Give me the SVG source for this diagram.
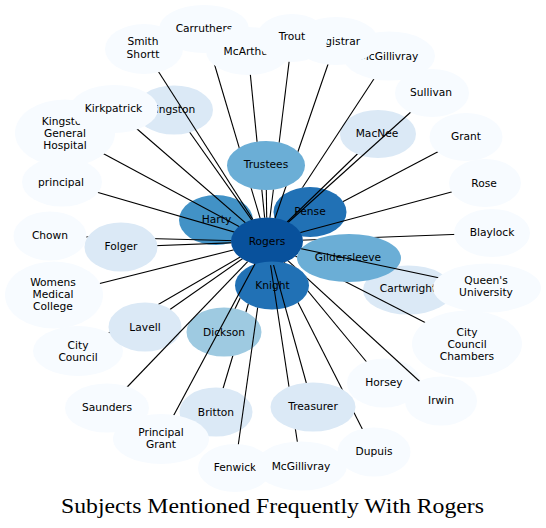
<svg xmlns="http://www.w3.org/2000/svg" xmlns:xlink="http://www.w3.org/1999/xlink" width="546" height="528" viewBox="0 0 546 528">
<style>
text{font-family:"DejaVu Sans","Liberation Sans",sans-serif;font-size:10.67px;text-anchor:middle;fill:#000}
.title{font-family:"Liberation Serif","DejaVu Serif",serif;font-size:20.5px}
.c0{fill:#f7fbff}.c1{fill:#dbe9f6}.c3{fill:#9ecae1}.c4{fill:#6baed6}.c5{fill:#4292c6}.c6{fill:#2171b5}.c7{fill:#08519c}
#edges line{stroke:#000;stroke-width:1.1}
</style>
<defs>
<ellipse id="g-carruthers" cx="204" cy="29" rx="45" ry="24"/>
<ellipse id="g-smith" cx="144" cy="49" rx="39" ry="25"/>
<ellipse id="g-mcarthur" cx="248" cy="51" rx="42" ry="24"/>
<ellipse id="g-mcgilltop" cx="389" cy="56" rx="46" ry="24.5"/>
<ellipse id="g-registrar" cx="336" cy="41" rx="42" ry="24"/>
<ellipse id="g-trout" cx="292" cy="38" rx="35.5" ry="24"/>
<ellipse id="g-sullivan" cx="432" cy="93" rx="37" ry="24"/>
<ellipse id="g-grant" cx="466" cy="137" rx="36.5" ry="24"/>
<ellipse id="g-rose" cx="485" cy="183" rx="36" ry="24"/>
<ellipse id="g-blaylock" cx="492" cy="233" rx="38" ry="24"/>
<ellipse id="g-cartwright" cx="408" cy="290" rx="45" ry="24.5"/>
<ellipse id="g-queens" cx="487" cy="288" rx="54" ry="24.5"/>
<ellipse id="g-ccc" cx="467" cy="344" rx="55" ry="33.5"/>
<ellipse id="g-horsey" cx="384" cy="383" rx="37" ry="24.5"/>
<ellipse id="g-irwin" cx="441" cy="401" rx="36" ry="24.5"/>
<ellipse id="g-dupuis" cx="374" cy="452" rx="36.5" ry="24.5"/>
<ellipse id="g-treasurer" cx="313" cy="407" rx="42.5" ry="24.5"/>
<ellipse id="g-fenwick" cx="235" cy="468" rx="37" ry="24"/>
<ellipse id="g-mcgillbot" cx="301" cy="466" rx="46" ry="24.5"/>
<ellipse id="g-britton" cx="216" cy="412" rx="36.5" ry="24.5"/>
<ellipse id="g-saunders" cx="107" cy="408" rx="42" ry="24.5"/>
<ellipse id="g-pgrant" cx="161" cy="439" rx="48" ry="25"/>
<ellipse id="g-citycouncil" cx="78" cy="351" rx="45" ry="25"/>
<ellipse id="g-lavell" cx="145" cy="327" rx="36.5" ry="24.5"/>
<ellipse id="g-womens" cx="54" cy="295" rx="49" ry="33.5"/>
<ellipse id="g-chown" cx="50" cy="236" rx="36.5" ry="24.5"/>
<ellipse id="g-folger" cx="121" cy="247" rx="36.5" ry="24.5"/>
<ellipse id="g-principal" cx="62" cy="182" rx="40" ry="24.5"/>
<ellipse id="g-kgh" cx="65" cy="133" rx="50" ry="33.5"/>
<ellipse id="g-kingston" cx="174" cy="110" rx="39" ry="24.5"/>
<ellipse id="g-kirkpatrick" cx="114" cy="109" rx="44" ry="24"/>
<ellipse id="g-macnee" cx="378" cy="134" rx="38" ry="24"/>
<ellipse id="g-dickson" cx="224" cy="332" rx="37.5" ry="24.5"/>
<ellipse id="g-trustees" cx="266" cy="165.5" rx="39" ry="24.5"/>
<ellipse id="g-harty" cx="216" cy="220" rx="37" ry="25"/>
<ellipse id="g-pense" cx="310" cy="212" rx="36.5" ry="25"/>
<ellipse id="g-rogers" cx="267" cy="241.5" rx="36" ry="24"/>
<ellipse id="g-gildersleeve" cx="349" cy="258" rx="52" ry="24"/>
<ellipse id="g-knight" cx="272" cy="285.5" rx="37" ry="24"/>
<rect id="bg" x="0" y="0" width="546" height="528" fill="#fff"/>
<mask id="m-trustees" maskUnits="userSpaceOnUse" x="0" y="0" width="546" height="528"><use xlink:href="#bg"/><use xlink:href="#g-rogers" fill="#000"/><use xlink:href="#g-trustees" fill="#000"/></mask>
<mask id="m-smith" maskUnits="userSpaceOnUse" x="0" y="0" width="546" height="528"><use xlink:href="#bg"/><use xlink:href="#g-rogers" fill="#000"/><use xlink:href="#g-smith" fill="#000"/></mask>
<mask id="m-carruthers" maskUnits="userSpaceOnUse" x="0" y="0" width="546" height="528"><use xlink:href="#bg"/><use xlink:href="#g-rogers" fill="#000"/><use xlink:href="#g-carruthers" fill="#000"/><use xlink:href="#g-trustees" fill="#000"/><use xlink:href="#g-mcarthur" fill="#000"/></mask>
<mask id="m-mcarthur" maskUnits="userSpaceOnUse" x="0" y="0" width="546" height="528"><use xlink:href="#bg"/><use xlink:href="#g-rogers" fill="#000"/><use xlink:href="#g-mcarthur" fill="#000"/><use xlink:href="#g-trustees" fill="#000"/></mask>
<mask id="m-trout" maskUnits="userSpaceOnUse" x="0" y="0" width="546" height="528"><use xlink:href="#bg"/><use xlink:href="#g-rogers" fill="#000"/><use xlink:href="#g-trout" fill="#000"/><use xlink:href="#g-trustees" fill="#000"/></mask>
<mask id="m-registrar" maskUnits="userSpaceOnUse" x="0" y="0" width="546" height="528"><use xlink:href="#bg"/><use xlink:href="#g-rogers" fill="#000"/><use xlink:href="#g-registrar" fill="#000"/><use xlink:href="#g-trustees" fill="#000"/></mask>
<mask id="m-mcgilltop" maskUnits="userSpaceOnUse" x="0" y="0" width="546" height="528"><use xlink:href="#bg"/><use xlink:href="#g-rogers" fill="#000"/><use xlink:href="#g-mcgilltop" fill="#000"/><use xlink:href="#g-pense" fill="#000"/></mask>
<mask id="m-sullivan" maskUnits="userSpaceOnUse" x="0" y="0" width="546" height="528"><use xlink:href="#bg"/><use xlink:href="#g-rogers" fill="#000"/><use xlink:href="#g-sullivan" fill="#000"/></mask>
<mask id="m-macnee" maskUnits="userSpaceOnUse" x="0" y="0" width="546" height="528"><use xlink:href="#bg"/><use xlink:href="#g-rogers" fill="#000"/><use xlink:href="#g-macnee" fill="#000"/></mask>
<mask id="m-grant" maskUnits="userSpaceOnUse" x="0" y="0" width="546" height="528"><use xlink:href="#bg"/><use xlink:href="#g-rogers" fill="#000"/><use xlink:href="#g-grant" fill="#000"/><use xlink:href="#g-pense" fill="#000"/></mask>
<mask id="m-rose" maskUnits="userSpaceOnUse" x="0" y="0" width="546" height="528"><use xlink:href="#bg"/><use xlink:href="#g-rogers" fill="#000"/><use xlink:href="#g-rose" fill="#000"/></mask>
<mask id="m-blaylock" maskUnits="userSpaceOnUse" x="0" y="0" width="546" height="528"><use xlink:href="#bg"/><use xlink:href="#g-rogers" fill="#000"/><use xlink:href="#g-blaylock" fill="#000"/><use xlink:href="#g-gildersleeve" fill="#000"/></mask>
<mask id="m-queens" maskUnits="userSpaceOnUse" x="0" y="0" width="546" height="528"><use xlink:href="#bg"/><use xlink:href="#g-rogers" fill="#000"/><use xlink:href="#g-queens" fill="#000"/></mask>
<mask id="m-ccc" maskUnits="userSpaceOnUse" x="0" y="0" width="546" height="528"><use xlink:href="#bg"/><use xlink:href="#g-rogers" fill="#000"/><use xlink:href="#g-ccc" fill="#000"/><use xlink:href="#g-gildersleeve" fill="#000"/></mask>
<mask id="m-irwin" maskUnits="userSpaceOnUse" x="0" y="0" width="546" height="528"><use xlink:href="#bg"/><use xlink:href="#g-rogers" fill="#000"/><use xlink:href="#g-irwin" fill="#000"/><use xlink:href="#g-knight" fill="#000"/></mask>
<mask id="m-horsey" maskUnits="userSpaceOnUse" x="0" y="0" width="546" height="528"><use xlink:href="#bg"/><use xlink:href="#g-rogers" fill="#000"/><use xlink:href="#g-horsey" fill="#000"/><use xlink:href="#g-knight" fill="#000"/></mask>
<mask id="m-dupuis" maskUnits="userSpaceOnUse" x="0" y="0" width="546" height="528"><use xlink:href="#bg"/><use xlink:href="#g-rogers" fill="#000"/><use xlink:href="#g-dupuis" fill="#000"/><use xlink:href="#g-knight" fill="#000"/><use xlink:href="#g-treasurer" fill="#000"/></mask>
<mask id="m-treasurer" maskUnits="userSpaceOnUse" x="0" y="0" width="546" height="528"><use xlink:href="#bg"/><use xlink:href="#g-rogers" fill="#000"/><use xlink:href="#g-treasurer" fill="#000"/></mask>
<mask id="m-mcgillbot" maskUnits="userSpaceOnUse" x="0" y="0" width="546" height="528"><use xlink:href="#bg"/><use xlink:href="#g-rogers" fill="#000"/><use xlink:href="#g-mcgillbot" fill="#000"/><use xlink:href="#g-treasurer" fill="#000"/></mask>
<mask id="m-fenwick" maskUnits="userSpaceOnUse" x="0" y="0" width="546" height="528"><use xlink:href="#bg"/><use xlink:href="#g-rogers" fill="#000"/><use xlink:href="#g-fenwick" fill="#000"/><use xlink:href="#g-knight" fill="#000"/></mask>
<mask id="m-britton" maskUnits="userSpaceOnUse" x="0" y="0" width="546" height="528"><use xlink:href="#bg"/><use xlink:href="#g-rogers" fill="#000"/><use xlink:href="#g-britton" fill="#000"/><use xlink:href="#g-dickson" fill="#000"/><use xlink:href="#g-knight" fill="#000"/></mask>
<mask id="m-dickson" maskUnits="userSpaceOnUse" x="0" y="0" width="546" height="528"><use xlink:href="#bg"/><use xlink:href="#g-rogers" fill="#000"/><use xlink:href="#g-dickson" fill="#000"/><use xlink:href="#g-knight" fill="#000"/></mask>
<mask id="m-pgrant" maskUnits="userSpaceOnUse" x="0" y="0" width="546" height="528"><use xlink:href="#bg"/><use xlink:href="#g-rogers" fill="#000"/><use xlink:href="#g-pgrant" fill="#000"/></mask>
<mask id="m-saunders" maskUnits="userSpaceOnUse" x="0" y="0" width="546" height="528"><use xlink:href="#bg"/><use xlink:href="#g-rogers" fill="#000"/><use xlink:href="#g-saunders" fill="#000"/></mask>
<mask id="m-lavell" maskUnits="userSpaceOnUse" x="0" y="0" width="546" height="528"><use xlink:href="#bg"/><use xlink:href="#g-rogers" fill="#000"/><use xlink:href="#g-lavell" fill="#000"/></mask>
<mask id="m-citycouncil" maskUnits="userSpaceOnUse" x="0" y="0" width="546" height="528"><use xlink:href="#bg"/><use xlink:href="#g-rogers" fill="#000"/><use xlink:href="#g-citycouncil" fill="#000"/><use xlink:href="#g-lavell" fill="#000"/></mask>
<mask id="m-womens" maskUnits="userSpaceOnUse" x="0" y="0" width="546" height="528"><use xlink:href="#bg"/><use xlink:href="#g-rogers" fill="#000"/><use xlink:href="#g-womens" fill="#000"/></mask>
<mask id="m-folger" maskUnits="userSpaceOnUse" x="0" y="0" width="546" height="528"><use xlink:href="#bg"/><use xlink:href="#g-rogers" fill="#000"/><use xlink:href="#g-folger" fill="#000"/></mask>
<mask id="m-chown" maskUnits="userSpaceOnUse" x="0" y="0" width="546" height="528"><use xlink:href="#bg"/><use xlink:href="#g-rogers" fill="#000"/><use xlink:href="#g-chown" fill="#000"/><use xlink:href="#g-folger" fill="#000"/></mask>
<mask id="m-principal" maskUnits="userSpaceOnUse" x="0" y="0" width="546" height="528"><use xlink:href="#bg"/><use xlink:href="#g-rogers" fill="#000"/><use xlink:href="#g-principal" fill="#000"/></mask>
<mask id="m-kgh" maskUnits="userSpaceOnUse" x="0" y="0" width="546" height="528"><use xlink:href="#bg"/><use xlink:href="#g-rogers" fill="#000"/><use xlink:href="#g-kgh" fill="#000"/></mask>
<mask id="m-kirkpatrick" maskUnits="userSpaceOnUse" x="0" y="0" width="546" height="528"><use xlink:href="#bg"/><use xlink:href="#g-rogers" fill="#000"/><use xlink:href="#g-kirkpatrick" fill="#000"/></mask>
<mask id="m-kingston" maskUnits="userSpaceOnUse" x="0" y="0" width="546" height="528"><use xlink:href="#bg"/><use xlink:href="#g-rogers" fill="#000"/><use xlink:href="#g-kingston" fill="#000"/></mask>
</defs>
<rect width="546" height="528" fill="#fff"/>
<g id="nodes">
<g id="n-carruthers"><use xlink:href="#g-carruthers" class="c0"/><text x="204" y="31.8">Carruthers</text></g>
<g id="n-smith"><use xlink:href="#g-smith" class="c0"/><text x="143" y="45.3">Smith</text><text x="143" y="57.5">Shortt</text></g>
<g id="n-mcarthur"><use xlink:href="#g-mcarthur" class="c0"/><text x="248" y="54.8">McArthur</text></g>
<g id="n-mcgilltop"><use xlink:href="#g-mcgilltop" class="c0"/><text x="389" y="59.8">McGillivray</text></g>
<g id="n-registrar"><use xlink:href="#g-registrar" class="c0"/><text x="336" y="44.8">Registrar</text></g>
<g id="n-trout"><use xlink:href="#g-trout" class="c0"/><text x="292" y="39.8">Trout</text></g>
<g id="n-sullivan"><use xlink:href="#g-sullivan" class="c0"/><text x="431" y="95.8">Sullivan</text></g>
<g id="n-grant"><use xlink:href="#g-grant" class="c0"/><text x="466" y="139.8">Grant</text></g>
<g id="n-rose"><use xlink:href="#g-rose" class="c0"/><text x="484" y="186.8">Rose</text></g>
<g id="n-blaylock"><use xlink:href="#g-blaylock" class="c0"/><text x="492" y="235.8">Blaylock</text></g>
<g id="n-cartwright"><use xlink:href="#g-cartwright" class="c1"/><text x="408" y="291.8">Cartwright</text></g>
<g id="n-queens"><use xlink:href="#g-queens" class="c0"/><text x="486" y="283.8">Queen's</text><text x="486" y="296">University</text></g>
<g id="n-ccc"><use xlink:href="#g-ccc" class="c0"/><text x="467" y="335.5">City</text><text x="467" y="347.5">Council</text><text x="467" y="359.5">Chambers</text></g>
<g id="n-horsey"><use xlink:href="#g-horsey" class="c0"/><text x="384" y="385.8">Horsey</text></g>
<g id="n-irwin"><use xlink:href="#g-irwin" class="c0"/><text x="441" y="403.8">Irwin</text></g>
<g id="n-dupuis"><use xlink:href="#g-dupuis" class="c0"/><text x="374" y="454.8">Dupuis</text></g>
<g id="n-treasurer"><use xlink:href="#g-treasurer" class="c1"/><text x="313" y="409.8">Treasurer</text></g>
<g id="n-fenwick"><use xlink:href="#g-fenwick" class="c0"/><text x="235" y="470.8">Fenwick</text></g>
<g id="n-mcgillbot"><use xlink:href="#g-mcgillbot" class="c0"/><text x="301" y="469.8">McGillivray</text></g>
<g id="n-britton"><use xlink:href="#g-britton" class="c1"/><text x="216" y="415.8">Britton</text></g>
<g id="n-saunders"><use xlink:href="#g-saunders" class="c0"/><text x="107" y="410.8">Saunders</text></g>
<g id="n-pgrant"><use xlink:href="#g-pgrant" class="c0"/><text x="161" y="435.8">Principal</text><text x="161" y="448">Grant</text></g>
<g id="n-citycouncil"><use xlink:href="#g-citycouncil" class="c0"/><text x="78" y="348.5">City</text><text x="78" y="360.7">Council</text></g>
<g id="n-lavell"><use xlink:href="#g-lavell" class="c1"/><text x="145" y="330.8">Lavell</text></g>
<g id="n-womens"><use xlink:href="#g-womens" class="c0"/><text x="53" y="285.8">Womens</text><text x="53" y="298">Medical</text><text x="53" y="310.2">College</text></g>
<g id="n-chown"><use xlink:href="#g-chown" class="c0"/><text x="50" y="238.8">Chown</text></g>
<g id="n-folger"><use xlink:href="#g-folger" class="c1"/><text x="121" y="249.8">Folger</text></g>
<g id="n-principal"><use xlink:href="#g-principal" class="c0"/><text x="61" y="185.8">principal</text></g>
<g id="n-kgh"><use xlink:href="#g-kgh" class="c0"/><text x="65" y="124.8">Kingston</text><text x="65" y="137">General</text><text x="65" y="149.2">Hospital</text></g>
<g id="n-kingston"><use xlink:href="#g-kingston" class="c1"/><text x="172" y="113.3">Kingston</text></g>
<g id="n-kirkpatrick"><use xlink:href="#g-kirkpatrick" class="c0"/><text x="113.5" y="111.8">Kirkpatrick</text></g>
<g id="n-macnee"><use xlink:href="#g-macnee" class="c1"/><text x="377" y="136.8">MacNee</text></g>
<g id="n-dickson"><use xlink:href="#g-dickson" class="c3"/><text x="224" y="335.8">Dickson</text></g>
<g id="n-trustees"><use xlink:href="#g-trustees" class="c4"/><text x="266" y="168.3">Trustees</text></g>
<g id="n-harty"><use xlink:href="#g-harty" class="c5"/><text x="216.5" y="222.8">Harty</text></g>
<g id="n-pense"><use xlink:href="#g-pense" class="c6"/><text x="310" y="214.8">Pense</text></g>
<g id="n-rogers"><use xlink:href="#g-rogers" class="c7"/><text x="267" y="245.3">Rogers</text></g>
<g id="n-gildersleeve"><use xlink:href="#g-gildersleeve" class="c4"/><text x="348" y="261">Gildersleeve</text></g>
<g id="n-knight"><use xlink:href="#g-knight" class="c6"/><text x="272.5" y="289">Knight</text></g>
</g>
<g id="edges">
<line x1="267" y1="241.5" x2="266" y2="165.5" mask="url(#m-trustees)"/>
<line x1="267" y1="241.5" x2="144" y2="49" mask="url(#m-smith)"/>
<line x1="267" y1="241.5" x2="204" y2="29" mask="url(#m-carruthers)"/>
<line x1="267" y1="241.5" x2="248" y2="51" mask="url(#m-mcarthur)"/>
<line x1="267" y1="241.5" x2="292" y2="38" mask="url(#m-trout)"/>
<line x1="267" y1="241.5" x2="336" y2="41" mask="url(#m-registrar)"/>
<line x1="267" y1="241.5" x2="389" y2="56" mask="url(#m-mcgilltop)"/>
<line x1="267" y1="241.5" x2="432" y2="93" mask="url(#m-sullivan)"/>
<line x1="267" y1="241.5" x2="378" y2="134" mask="url(#m-macnee)"/>
<line x1="267" y1="241.5" x2="466" y2="137" mask="url(#m-grant)"/>
<line x1="267" y1="241.5" x2="485" y2="183" mask="url(#m-rose)"/>
<line x1="267" y1="241.5" x2="492" y2="233" mask="url(#m-blaylock)"/>
<line x1="267" y1="241.5" x2="487" y2="288" mask="url(#m-queens)"/>
<line x1="267" y1="241.5" x2="467" y2="344" mask="url(#m-ccc)"/>
<line x1="267" y1="241.5" x2="441" y2="401" mask="url(#m-irwin)"/>
<line x1="267" y1="241.5" x2="384" y2="383" mask="url(#m-horsey)"/>
<line x1="267" y1="241.5" x2="374" y2="452" mask="url(#m-dupuis)"/>
<line x1="267" y1="241.5" x2="313" y2="407" mask="url(#m-treasurer)"/>
<line x1="267" y1="241.5" x2="301" y2="466" mask="url(#m-mcgillbot)"/>
<line x1="267" y1="241.5" x2="235" y2="468" mask="url(#m-fenwick)"/>
<line x1="267" y1="241.5" x2="216" y2="412" mask="url(#m-britton)"/>
<line x1="267" y1="241.5" x2="224" y2="332" mask="url(#m-dickson)"/>
<line x1="267" y1="241.5" x2="161" y2="439" mask="url(#m-pgrant)"/>
<line x1="267" y1="241.5" x2="107" y2="408" mask="url(#m-saunders)"/>
<line x1="267" y1="241.5" x2="145" y2="327" mask="url(#m-lavell)"/>
<line x1="267" y1="241.5" x2="78" y2="351" mask="url(#m-citycouncil)"/>
<line x1="267" y1="241.5" x2="54" y2="295" mask="url(#m-womens)"/>
<line x1="267" y1="241.5" x2="121" y2="247" mask="url(#m-folger)"/>
<line x1="267" y1="241.5" x2="50" y2="236" mask="url(#m-chown)"/>
<line x1="267" y1="241.5" x2="62" y2="182" mask="url(#m-principal)"/>
<line x1="267" y1="241.5" x2="65" y2="133" mask="url(#m-kgh)"/>
<line x1="267" y1="241.5" x2="114" y2="109" mask="url(#m-kirkpatrick)"/>
<line x1="267" y1="241.5" x2="174" y2="110" mask="url(#m-kingston)"/>
</g>
<text class="title" x="272.5" y="513" textLength="423" lengthAdjust="spacingAndGlyphs">Subjects Mentioned Frequently With Rogers</text>
</svg>
